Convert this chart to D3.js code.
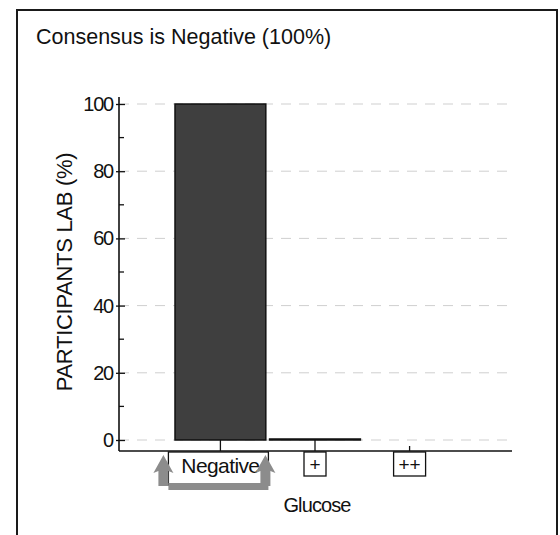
<!DOCTYPE html>
<html>
<head>
<meta charset="utf-8">
<script src="https://cdn.jsdelivr.net/npm/d3@7"></script>
<style>
  body { margin: 0; background: #fff; }
  svg { display: block; font-family: "Liberation Sans", Arial, sans-serif; }
</style>
</head>
<body>
<div id="chart"></div>
<script>
// data
const categories = ['Negative', '+', '++'];
const values = [100, 0.3, 0];
const majorTicks = [0, 20, 40, 60, 80, 100];
const minorTicks = [10, 30, 50, 70, 90];
const title = 'Consensus is Negative (100%)';
const yTitle = 'PARTICIPANTS LAB (%)';
const xTitle = 'Glucose';
const consensus = 'Negative';

// settings
const width = 560;
const height = 535;
const plot = { left: 119, right: 512, top: 104, bottom: 440, axisY: 451 };
const font = '"Liberation Sans", Arial, sans-serif';

const svg = d3.select('#chart')
  .append('svg')
  .attr('width', width)
  .attr('height', height);

// frame
svg.append('rect')
  .attr('x', 17).attr('y', 10)
  .attr('width', 540).attr('height', 545)
  .attr('fill', '#fff')
  .attr('stroke', '#1a1a1a')
  .attr('stroke-width', 2);

svg.append('text')
  .attr('x', 36).attr('y', 44)
  .attr('font-size', 21.5)
  .attr('fill', '#111')
  .text(title);

const x = d3.scaleBand()
  .domain(categories)
  .range([175, 455])
  .paddingInner(0.04)
  .paddingOuter(0);

const y = d3.scaleLinear()
  .domain([0, 100])
  .range([plot.bottom, plot.top]);

// gridlines
svg.append('g')
  .selectAll('line')
  .data(majorTicks)
  .join('line')
  .attr('x1', plot.left)
  .attr('x2', plot.right)
  .attr('y1', d => y(d))
  .attr('y2', d => y(d))
  .attr('stroke', '#cfcfcf')
  .attr('stroke-dasharray', '10,8');

// bars
svg.append('g')
  .selectAll('rect')
  .data(categories)
  .join('rect')
  .attr('x', d => x(d))
  .attr('width', x.bandwidth())
  .attr('y', (d, i) => y(values[i]))
  .attr('height', (d, i) => y(0) - y(values[i]))
  .attr('fill', '#3f3f3f')
  .attr('stroke', (d, i) => values[i] > 0 ? '#111' : 'none')
  .attr('stroke-width', 1.5);

// y axis
const yAxis = svg.append('g')
  .attr('transform', `translate(${plot.left},0)`)
  .call(d3.axisLeft(y).tickValues(majorTicks).tickSize(3).tickPadding(3));
yAxis.select('.domain').remove();
yAxis.selectAll('.tick line').attr('x1', 6).attr('stroke', '#111').attr('stroke-width', 1.3);
yAxis.selectAll('.tick text')
  .attr('font-size', 20)
  .attr('font-family', font)
  .attr('letter-spacing', -1.2)
  .attr('fill', '#111');
yAxis.selectAll('.minor')
  .data(minorTicks)
  .join('line')
  .attr('class', 'minor')
  .attr('x1', 0).attr('x2', 5)
  .attr('y1', d => y(d)).attr('y2', d => y(d))
  .attr('stroke', '#111').attr('stroke-width', 1.3);
yAxis.append('line')
  .attr('y1', 97).attr('y2', plot.axisY)
  .attr('stroke', '#111').attr('stroke-width', 1.6);

svg.append('text')
  .attr('transform', `translate(72,${(plot.top + plot.bottom) / 2}) rotate(-90)`)
  .attr('text-anchor', 'middle')
  .attr('font-size', 22)
  .attr('letter-spacing', -0.3)
  .attr('fill', '#111')
  .text(yTitle);

// x axis
const xAxis = svg.append('g')
  .attr('transform', `translate(0,${plot.axisY})`)
  .call(d3.axisBottom(x).tickSize(0).tickFormat(''));
xAxis.select('.domain').remove();
xAxis.append('line')
  .attr('x1', plot.left).attr('x2', plot.right)
  .attr('stroke', '#111').attr('stroke-width', 1.6);
xAxis.selectAll('.tick')
  .append('line')
  .attr('y1', 0)
  .attr('y2', (d, i) => values[i] > 0 ? y(0) - plot.axisY : -5)
  .attr('stroke', '#111').attr('stroke-width', 1.3);

// category labels in boxes
const labels = xAxis.selectAll('.tick')
  .append('g')
  .attr('class', 'lab');
labels.append('rect')
  .attr('x', d => d === consensus ? -52 : -(d.length * 5 + 6))
  .attr('width', d => d === consensus ? 100 : d.length * 10 + 12)
  .attr('y', 1)
  .attr('height', d => d === consensus ? 33 : 24)
  .attr('fill', 'none')
  .attr('stroke', '#111')
  .attr('stroke-width', 1.3);
labels.append('text')
  .attr('y', d => d === consensus ? 22 : 20)
  .attr('text-anchor', 'middle')
  .attr('font-size', d => d === consensus ? 21 : 19)
  .attr('font-family', font)
  .attr('letter-spacing', d => d === consensus ? -0.6 : 0)
  .attr('fill', '#111')
  .text(d => d);

// consensus highlight: gray arrows and bar under the label
const cx = x(consensus) + x.bandwidth() / 2;
const hl = svg.append('g').attr('fill', '#8c8c8c');
const left = cx - 52;
const right = cx + 48;
const a = plot.axisY;
hl.append('rect')
  .attr('x', left).attr('y', a + 32)
  .attr('width', right - left).attr('height', 7);
[left - 5, right - 3].forEach(ax => {
  hl.append('path')
    .attr('d', `M${ax},${a + 4} L${ax + 10},${a + 22} L${ax + 5},${a + 20} L${ax + 5},${a + 35} L${ax - 5},${a + 35} L${ax - 5},${a + 20} L${ax - 10},${a + 22} Z`);
});

svg.append('text')
  .attr('x', x('+') + x.bandwidth() / 2 + 2)
  .attr('y', 512)
  .attr('text-anchor', 'middle')
  .attr('font-size', 20)
  .attr('letter-spacing', -0.9)
  .attr('fill', '#111')
  .text(xTitle);
</script>
</body>
</html>
